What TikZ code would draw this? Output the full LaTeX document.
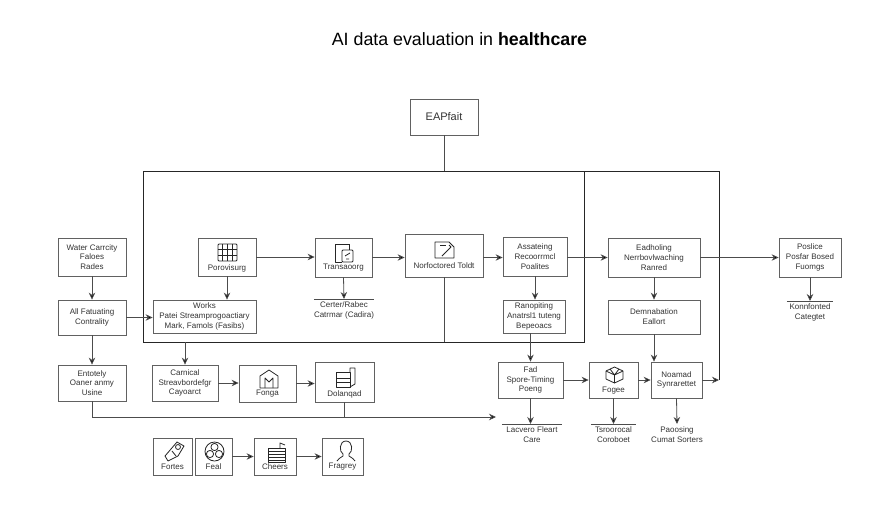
\documentclass[tikz,border=0pt]{standalone}
\usepackage{fontspec}
\setmainfont{Liberation Sans}
\usetikzlibrary{arrows.meta}

\begin{document}
\begin{tikzpicture}
                [
                    x=1pt,y=-1pt,
                    box/.style={rectangle,draw=black!62,line width=0.8pt,fill=white,inner sep=0,align=center,text=black!80,font=\fontsize{8}{9.8}\selectfont},
                    boxlabel/.style={inner sep=0,align=center,text=black!80,font=\fontsize{8}{9.8}\selectfont},
                    notelabel/.style={anchor=north,inner sep=0,inner ysep=2.5pt,align=center,text=black!80,font=\fontsize{8}{9.8}\selectfont},
                    frameline/.style={draw=black!85,line width=0.9pt},
                    link/.style={draw=black!70,line width=0.8pt},
                    flow/.style={-{Stealth[length=7pt,width=6.5pt,fill=black]},draw=black!70,line width=0.8pt},
                    icon/.style={draw=black!85,line width=0.8pt,line join=round},
                ]
                \useasboundingbox (0,0) rectangle (896,512);
                \node[inner sep=0,font=\fontsize{17.8}{20}\selectfont] (title) at (459.5,39) {AI data evaluation in \textbf{healthcare}};

                \node[box,font=\fontsize{11}{13}\selectfont,minimum width=68pt,minimum height=36pt] (eap) at (444,117) {EAPfait};
                \node[rectangle,frameline,minimum width=441pt,minimum height=171pt,inner sep=0,outer sep=0] (frame) at (363.5,256.5) {};
                \coordinate (corner) at (719,380);
                \coordinate (longend) at (496,417);

                \node[box,minimum width=68pt,minimum height=38pt] (water) at (92,257) {Water Carrcity\\Faloes\\Rades};
                \node[box,minimum width=68pt,minimum height=35pt] (allfe) at (92,317.5) {All Fatuating\\Contrality};
                \node[box,minimum width=68pt,minimum height=36pt] (ent) at (92,383) {Entotely\\Oaner anmy\\Usine};

                \node[box,minimum width=58pt,minimum height=38pt] (prov) at (227,257) {};
                \node[boxlabel] (provlabel) at (227,268) {Porovisurg};
                \node[box,minimum width=57pt,minimum height=39pt] (trans) at (343.5,257.5) {};
                \node[boxlabel] (translabel) at (343.5,268) {Transaoorg};
                \node[box,minimum width=103pt,minimum height=33pt] (works) at (204.5,316.5) {Works\\Patei Streamprogoactiary\\Mark, Famols (Fasibs)};
                \node[notelabel,minimum width=48pt] (note) at (344,299) {Certer/Rabec\\Catrmar (Cadira)};

                \node[box,minimum width=78pt,minimum height=43pt] (notef) at (444,255.5) {};
                \node[boxlabel] (noteflabel) at (444,266) {Norfoctored Toldt};
                \node[box,minimum width=64pt,minimum height=39pt] (assess) at (535,256.5) {Assateing\\Recoorrmcl\\Poalites};
                \node[box,minimum width=62pt,minimum height=33pt] (runn) at (534,316.5) {Ranopiting\\Anatrsl1 tuteng\\Bepeoacs};
                \node[box,minimum width=92pt,minimum height=39pt] (evid) at (654,257.5) {Eadholing\\Nerrbovlwaching\\Ranred};
                \node[box,minimum width=92pt,minimum height=34pt] (dem) at (654,317) {Demnabation\\Eallort};

                \node[box,minimum width=62pt,minimum height=39pt] (police) at (810,257.5) {Poslice\\Posfar Bosed\\Fuomgs};
                \node[notelabel,minimum width=46pt] (konn) at (810,301) {Konnfonted\\Categtet};

                \node[box,minimum width=66pt,minimum height=36pt] (cam) at (185,383) {Carnical\\Streavbordefgr\\Cayoarct};
                \node[box,minimum width=57pt,minimum height=37pt] (forge) at (267.5,383.5) {};
                \node[boxlabel] (forgelabel) at (267.5,394) {Fonga};
                \node[box,minimum width=59pt,minimum height=40pt] (dol) at (344.5,382) {};
                \node[boxlabel] (dollabel) at (344.5,394) {Dolanqad};

                \node[box,minimum width=65pt,minimum height=36pt] (fed) at (530.5,380) {Fad\\Spore-Timing\\Poeng};
                \node[box,minimum width=49pt,minimum height=36pt] (pages) at (613.5,380) {};
                \node[boxlabel] (pageslabel) at (613.5,391) {Fogee};
                \node[box,minimum width=51pt,minimum height=36pt] (named) at (676.5,380) {Noamad\\Synrarettet};
                \node[notelabel,minimum width=60pt] (care) at (532,424) {Lacvero Fleart\\Care};
                \node[notelabel,minimum width=45pt] (coro) at (613.5,424) {Tsroorocal\\Coroboet};
                \node[notelabel] (sort) at (677,424) {Paoosing\\Cumat Sorters};

                \node[box,minimum width=39pt,minimum height=37pt] (fortes) at (172.5,456.5) {};
                \node[boxlabel] (forteslabel) at (172.5,467) {Fortes};
                \node[box,minimum width=37pt,minimum height=37pt] (feal) at (213.5,456.5) {};
                \node[boxlabel] (feallabel) at (213.5,467) {Feal};
                \node[box,minimum width=42pt,minimum height=37pt] (cheers) at (275,456.5) {};
                \node[boxlabel] (cheerslabel) at (275,467) {Cheers};
                \node[box,minimum width=41pt,minimum height=37pt] (fragrey) at (342.5,456.5) {};
                \node[boxlabel] (fragreylabel) at (342.5,467) {Fragrey};

                \draw[link] (eap.south) -- (eap.south |- frame.north);
                \draw[frameline] (frame.north east) -- (frame.north east -| corner) -- (corner);
                \draw[link] (notef.south) -- (notef.south |- frame.south);
                \draw[flow] (water) -- (allfe);
                \draw[flow] (allfe) -- (ent);
                \draw[flow] (allfe.east) -- (allfe.east -| works.west);
                \draw[flow] (prov.south) -- (prov.south |- works.north);
                \draw[flow] (prov.east) -- (prov.east -| trans.west);
                \draw[flow] (trans.east) -- (trans.east -| notef.west);
                \draw[flow] (trans.south) -- (note.north);
                \draw[flow] (notef.east |- trans.east) -- (assess.west |- trans.east);
                \draw[flow] (assess.east |- evid.west) -- (evid.west);
                \draw[flow] (assess.south) -- (assess.south |- runn.north);
                \draw[flow] (fed.north |- runn.south) -- (fed.north);
                \draw[flow] (evid) -- (dem);
                \draw[flow] (evid) -- (police);
                \draw[flow] (police.south) -- (konn.north);
                \draw[flow] (dem.south) -- (dem.south |- named.north);
                \draw[flow] (cam.north |- frame.south) -- (cam.north);
                \draw[flow] (cam.east) -- (cam.east -| forge.west);
                \draw[flow] (forge.east) -- (forge.east -| dol.west);
                \draw[link] (dol.south) -- (dol.south |- longend);
                \draw[flow] (ent.south) |- (longend);
                \draw[flow] (fed) -- (pages);
                \draw[flow] (pages) -- (named);
                \draw[flow] (named) -- (corner);
                \draw[flow] (fed.south) -- (fed.south |- care.north);
                \draw[flow] (pages.south) -- (coro.north);
                \draw[flow] (named.south) -- (sort.north);
                \draw[flow] (feal.east) -- (feal.east -| cheers.west);
                \draw[flow] (cheers.east) -- (cheers.east -| fragrey.west);

                \draw[link,line width=0.6pt] (note.north west) -- (note.north east);
                \draw[link,line width=0.6pt] (konn.north west) -- (konn.north east);
                \draw[link,line width=0.6pt] (care.north west) -- (care.north east);
                \draw[link,line width=0.6pt] (coro.north west) -- (coro.north east);

                \draw[icon,rounded corners=1pt] (218,244) rectangle (237,261);
                \foreach \gridx in {222.8,227.5,232.2} \draw[icon] (\gridx,244) -- (\gridx,261);
                \foreach \gridy in {249.5,255} \draw[icon] (218,\gridy) -- (237,\gridy);
                \draw[icon] (349,244) -- (335,244) -- (335,262) -- (342,262);
                \draw[icon] (349,244) -- (349,250);
                \draw[icon,rounded corners=1pt] (342,250) rectangle (353,262);
                \draw[icon] (345,256) -- (350,253) (346,259) -- (349,259);
                \draw[icon] (435,242) -- (449,242) -- (454,247) -- (454,258) -- (435,258) -- cycle;
                \draw[icon] (442,256) -- (451,247) -- (449,245);
                \draw[icon] (440,245) -- (446,245);
                \draw[icon] (260,388) -- (260,376) -- (269,370) -- (278,376) -- (278,388) -- cycle;
                \draw[icon] (265,388) -- (265,378) -- (269,382) -- (273,378) -- (273,388);
                \draw[icon] (336,372) -- (350,372) -- (350,387) -- (336,387) -- cycle;
                \draw[icon] (350,372) -- (350,368) -- (355,368) -- (355,384) -- (350,387);
                \draw[icon] (336,378) -- (350,378) (336,382) -- (350,382);
                \draw[icon] (165,456) -- (177,442) -- (184,446) -- (178,456) -- (168,461) -- cycle;
                \draw[icon] (178,447) circle (2.5pt);
                \draw[icon] (172,451) -- (176,456);
                \draw[icon] (214.5,451.5) circle (9.5pt);
                \foreach \petalx/\petaly in {214.5/447,210/454,219/454} \draw[icon] (\petalx,\petaly) circle (3.6pt);
                \draw[icon] (268,448) rectangle (285,462);
                \foreach \listy in {451,454,457,460} \draw[icon] (268,\listy) -- (285,\listy);
                \draw[icon] (280,448) -- (280,443) -- (285,445);
                \draw[icon] (346,441) .. controls (339,441) and (339,452) .. (343,454) -- (343,456) .. controls (340,458) and (338,459) .. (337,461);
                \draw[icon] (346,441) .. controls (353,441) and (353,452) .. (349,454) -- (349,456) .. controls (352,458) and (354,459) .. (355,461);
                \draw[icon] (614.5,367) -- (623,371) -- (623,379) -- (614.5,383) -- (606,379) -- (606,371) -- cycle;
                \draw[icon] (606,371) -- (614.5,375) -- (623,371) (614.5,375) -- (614.5,383) (610,369) -- (614.5,375) -- (619,369);
            \end{tikzpicture}
\end{document}
